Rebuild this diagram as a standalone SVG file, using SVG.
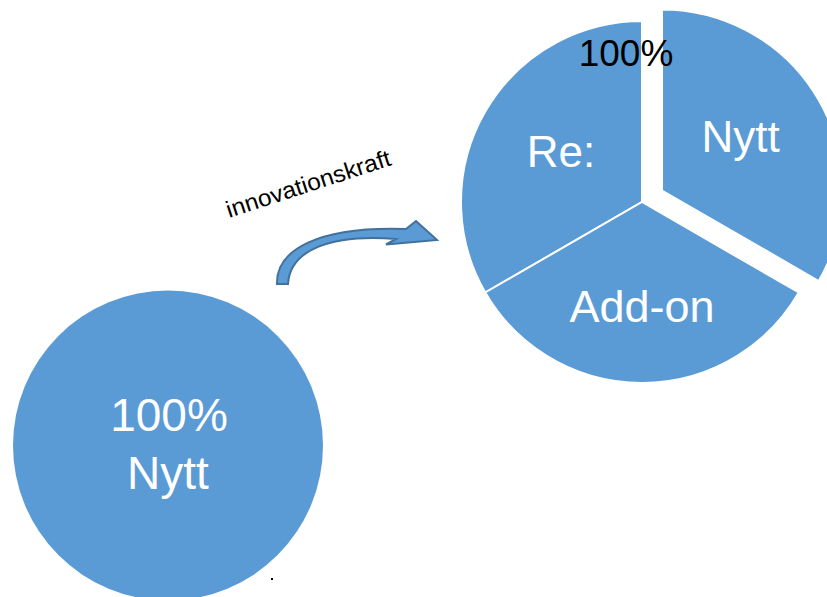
<svg xmlns="http://www.w3.org/2000/svg" width="827" height="597" viewBox="0 0 827 597">
<style>
.fill{fill:#5B9BD5}
.slice{fill:#5B9BD5;stroke:#FFFFFF;stroke-width:2;stroke-linejoin:miter}
.wt{fill:#FFFFFF;font-family:"Liberation Sans",Arial,sans-serif;text-anchor:middle}
.bk{fill:#000000;font-family:"Liberation Sans",Arial,sans-serif}
</style>
<rect width="827" height="597" fill="#FFFFFF"/>
<g id="circle-left">
<circle class="fill" cx="168" cy="445.5" r="155"/>
<text class="wt" x="169" y="431" font-size="46">100%</text>
<text class="wt" x="168" y="489" font-size="46">Nytt</text>
</g>
<g id="pie">
<g id="slice-re">
<path class="slice" d="M642,202 L485.25,292.5 A181,181 0 0 1 642,21 Z"/>
<text class="wt" x="561" y="167" font-size="44">Re:</text>
</g>
<g id="slice-addon">
<path class="slice" d="M642,202 L798.75,292.5 A181,181 0 0 1 485.25,292.5 Z"/>
<text class="wt" x="642" y="322" font-size="45">Add-on</text>
</g>
<g id="slice-nytt">
<path class="slice" d="M662,190.5 L662,9.5 A181,181 0 0 1 818.75,281 Z"/>
<text class="wt" x="740.5" y="152" font-size="44">Nytt</text>
</g>
<text class="bk" x="626" y="66" font-size="37" text-anchor="middle">100%</text>
</g>
<g id="connectors">
<path d="M277,284 C276,250 318,226 406,229 L416,221 L437,240 L386,244.5 L396,239 C330,234 290,250 288,284 Z" fill="#5B9BD5" stroke="#41719C" stroke-width="2" stroke-linejoin="miter"/>
<text class="bk" x="229" y="218" font-size="23.5" textLength="172" lengthAdjust="spacingAndGlyphs" transform="rotate(-18 229 218)">innovationskraft</text>
</g>
<rect x="271" y="578" width="2" height="2" fill="#000000"/>
</svg>
